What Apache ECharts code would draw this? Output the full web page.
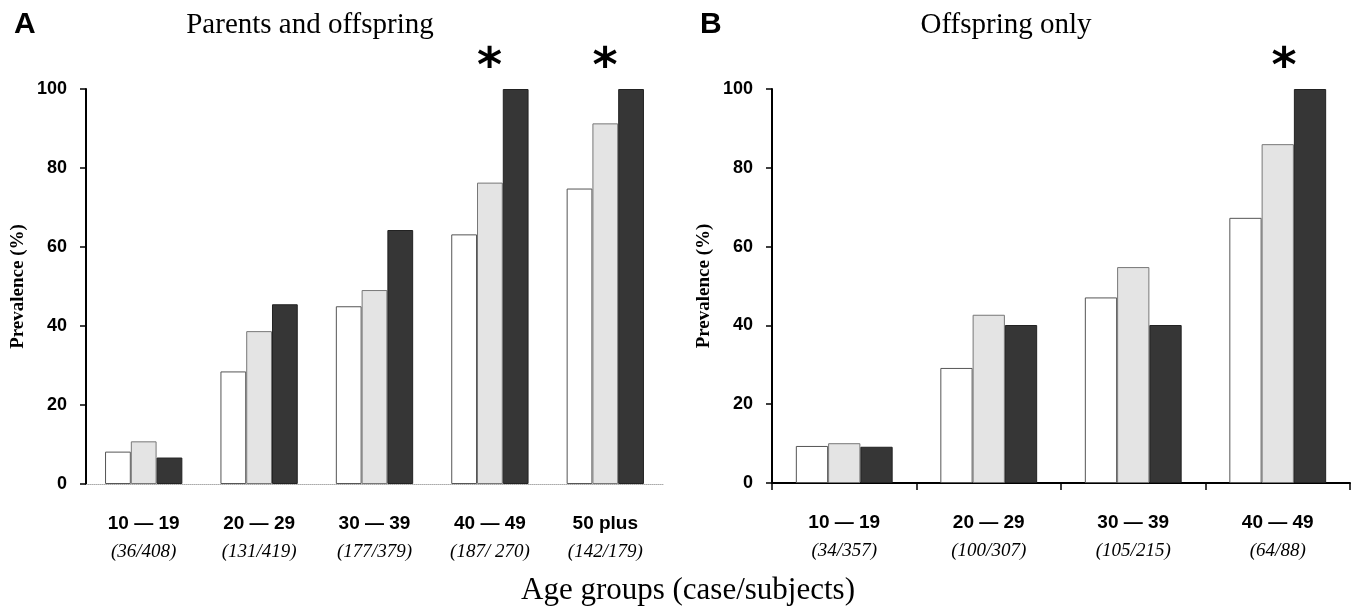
<!DOCTYPE html>
<html>
<head>
<meta charset="utf-8">
<script src="https://cdn.jsdelivr.net/npm/echarts@6/dist/echarts.min.js"></script>
<style>
  html, body { margin: 0; padding: 0; background: #fff; }
  #chart { width: 1359px; height: 612px; }
</style>
</head>
<body>
<div id="chart"></div>
<script>
// panel A: parents and offspring
const groupsA = ["10 — 19", "20 — 29", "30 — 39", "40 — 49", "50 plus"];
const countsA = ["(36/408)", "(131/419)", "(177/379)", "(187/ 270)", "(142/179)"];
const whiteA = [8.2, 28.5, 45.0, 63.2, 74.8];
const grayA = [10.8, 38.7, 49.1, 76.3, 91.3];
const darkA = [6.7, 45.5, 64.3, 100, 100];
const starA = [false, false, false, true, true];

// panel B: offspring only
const groupsB = ["10 — 19", "20 — 29", "30 — 39", "40 — 49"];
const countsB = ["(34/357)", "(100/307)", "(105/215)", "(64/88)"];
const whiteB = [9.4, 29.2, 47.1, 67.3];
const grayB = [10.1, 42.7, 54.8, 86.0];
const darkB = [9.2, 40.1, 40.1, 100];
const starB = [false, false, false, true];

const chart = echarts.init(document.getElementById("chart"));
const serif = "Liberation Serif, Times New Roman";
const sans = "Liberation Sans, Arial";

function xAxisOf(idx, groups, counts, solid) {
  return {
    type: "category",
    gridIndex: idx,
    data: groups.map((g, i) => g + "\n" + counts[i]),
    axisLine: {
      show: true,
      lineStyle: solid ? { color: "#000", width: 2 } : { color: "#aaa", width: 1, type: "dotted" },
    },
    axisTick: { show: solid, length: 7, lineStyle: { color: "#000", width: 1.5 } },
    axisLabel: {
      margin: 26,
      interval: 0,
      formatter: function (v) {
        const p = v.split("\n");
        return "{g|" + p[0] + "}\n{c|" + p[1] + "}";
      },
      rich: {
        g: { fontFamily: sans, fontWeight: "bold", fontSize: 19, color: "#000", lineHeight: 28 },
        c: { fontFamily: serif, fontStyle: "italic", fontSize: 19, color: "#000", lineHeight: 28 },
      },
    },
  };
}

function yAxisOf(idx) {
  return {
    type: "value",
    gridIndex: idx,
    min: 0,
    max: 100,
    interval: 20,
    name: "Prevalence (%)",
    nameLocation: "middle",
    nameGap: 58,
    nameTextStyle: { fontFamily: serif, fontWeight: "bold", fontSize: 19, color: "#000" },
    axisLine: { show: true, lineStyle: { color: "#000", width: 2 } },
    axisTick: { show: true, length: 6, lineStyle: { color: "#000", width: 1.5 } },
    axisLabel: { margin: 19, fontFamily: sans, fontWeight: "bold", fontSize: 18, color: "#000" },
    splitLine: { show: false },
  };
}

function starLabel(flags, dx) {
  return {
    show: true,
    position: "top",
    distance: -4,
    offset: [dx, 0],
    fontFamily: "DejaVu Sans",
    fontWeight: "bold",
    fontSize: 48,
    color: "#000",
    formatter: function (p) { return flags[p.dataIndex] ? "*" : ""; },
  };
}

function barsOf(idx, white, gray, dark, flags, dx) {
  const common = { type: "bar", xAxisIndex: idx, yAxisIndex: idx, barGap: "0%", barCategoryGap: "33%" };
  return [
    Object.assign({ name: "white", data: white, itemStyle: { color: "#fff", borderColor: "#555", borderWidth: 1 } }, common),
    Object.assign({ name: "gray", data: gray, itemStyle: { color: "#e4e4e4", borderColor: "#777", borderWidth: 1 } }, common),
    Object.assign({ name: "dark", data: dark, itemStyle: { color: "#363636", borderColor: "#222", borderWidth: 1 }, label: starLabel(flags, dx) }, common),
  ];
}

const option = {
  animation: false,
  backgroundColor: "#fff",
  title: [
    { text: "A", left: 9, top: 5, textStyle: { fontFamily: sans, fontWeight: "bold", fontSize: 30, color: "#000" } },
    { text: "B", left: 695, top: 5, textStyle: { fontFamily: sans, fontWeight: "bold", fontSize: 30, color: "#000" } },
    { text: "Parents and offspring", left: 305, top: 6, textAlign: "center", textStyle: { fontFamily: serif, fontWeight: "normal", fontSize: 29, color: "#000" } },
    { text: "Offspring only", left: 1001, top: 6, textAlign: "center", textStyle: { fontFamily: serif, fontWeight: "normal", fontSize: 29, color: "#000" } },
    { text: "Age groups (case/subjects)", left: 683, top: 570, textAlign: "center", textStyle: { fontFamily: serif, fontWeight: "normal", fontSize: 31, color: "#000" } },
  ],
  grid: [
    { left: 86, right: 696, top: 89, bottom: 128 },
    { left: 772, right: 9, top: 89, bottom: 129 },
  ],
  xAxis: [xAxisOf(0, groupsA, countsA, false), xAxisOf(1, groupsB, countsB, true)],
  yAxis: [yAxisOf(0), yAxisOf(1)],
  series: [].concat(
    barsOf(0, whiteA, grayA, darkA, starA, -26),
    barsOf(1, whiteB, grayB, darkB, starB, -26)
  ),
};

chart.setOption(option);
</script>
</body>
</html>
